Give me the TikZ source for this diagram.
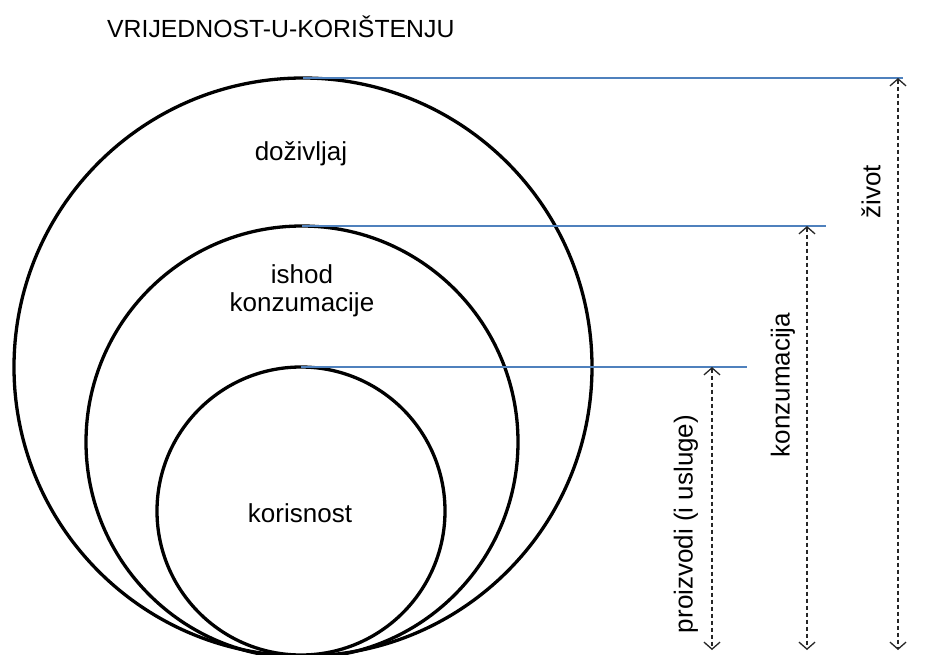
\documentclass[tikz,border=0pt]{standalone}
\usepackage{fontspec}
\setmainfont{Liberation Sans}
\usetikzlibrary{arrows.meta}
\definecolor{lineblue}{RGB}{79,129,189}
\begin{document}
\begin{tikzpicture}[x=1pt,y=-1pt,
  circ/.style={circle,draw=black,line width=3.3pt,inner sep=0pt,outer sep=0pt},
  blueline/.style={draw=lineblue,line width=1.1pt},
  span/.style={draw=black!85,line width=1.3pt,dash pattern=on 4pt off 3pt,
    {Straight Barb[length=7pt,width=16pt,line width=1.3pt]}-{Straight Barb[length=7pt,width=16pt,line width=1.3pt]}},
  lbl/.style={font=\fontsize{26}{28}\selectfont,align=center,inner sep=0pt},
  vlbl/.style={font=\fontsize{26}{29}\selectfont,inner sep=0pt,rotate=90}]
\useasboundingbox (0,0) rectangle (930,654);
\begin{scope}
\clip (0,0) rectangle (930,654);
\node[circ,minimum size=578pt] (big) at (303,367) {};
\node[circ,minimum size=432pt] (mid) at (302,442) {};
\node[circ,minimum size=288pt] (small) at (301,511) {};
\end{scope}
% title
\node[font=\fontsize{24.8}{28}\selectfont,inner sep=0pt,anchor=west] (title) at (107,27) {VRIJEDNOST-U-KORIŠTENJU};
% circle labels
\node[lbl] (dozivljaj) at (301,154) {doživljaj};
\node[lbl] (ishod) at (302,291) {ishod\\konzumacije};
\node[lbl] (korisnost) at (300,513) {korisnost};
% blue lines
\coordinate (b1) at (903,78);
\coordinate (b2) at (826,226);
\coordinate (b3) at (747,367);
\draw[blueline] (big.north) -- (b1);
\draw[blueline] (mid.north) -- (b2);
\draw[blueline] (small.north) -- (b3);
% span arrows
\coordinate (z1) at (898,78);
\coordinate (z2) at (898,650);
\coordinate (k1) at (807,226);
\coordinate (k2) at (807,650);
\coordinate (p1) at (712,367);
\coordinate (p2) at (712,650);
\draw[span] (z1) -- (z2);
\draw[span] (k1) -- (k2);
\draw[span] (p1) -- (p2);
% vertical labels
\node[vlbl] (zivot) at (871,192) {život};
\node[vlbl] (konz) at (783,385) {konzumacija};
\node[vlbl] (proiz) at (686,524) {proizvodi (i usluge)};
\end{tikzpicture}
\end{document}
